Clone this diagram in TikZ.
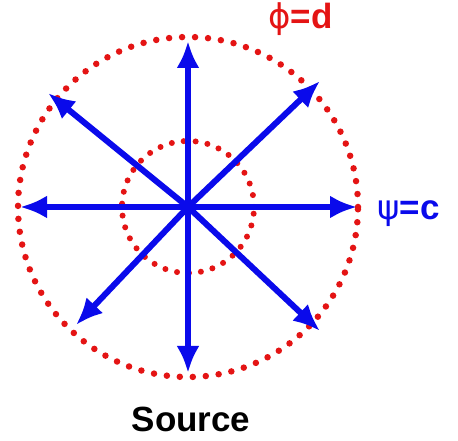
\documentclass[tikz,border=0pt]{standalone}
\usepackage{fontspec}
\setmainfont{Liberation Sans}
\newfontfamily\greekfont{DejaVu Sans}
\usetikzlibrary{arrows.meta}
\definecolor{dotred}{RGB}{228,20,20}
\definecolor{arrblue}{RGB}{10,10,235}
\begin{document}
\begin{tikzpicture}[x=1pt,y=1pt,
  dotcirc/.style={draw=dotred, line width=6.5pt, line cap=round, dash pattern=on 0pt off 13pt},
  innercirc/.style={draw=dotred, line width=6pt, line cap=round, dash pattern=on 0pt off 12pt},
  ray/.style={draw=arrblue, line width=6pt, -{Latex[length=27pt,width=23pt]}},
  lbl/.style={font=\fontsize{35}{37}\selectfont\bfseries, inner sep=0pt}]
\useasboundingbox (0,0) rectangle (458,441);
\coordinate (c) at (188,234);
\draw[dotcirc] (c) circle (170);
\draw[innercirc] (c) circle (66);
\coordinate (u) at (188,400);
\coordinate (d) at (188,68);
\coordinate (l) at (20,234);
\coordinate (r) at (357,234);
\coordinate (ur) at (320,360);
\coordinate (ul) at (48,348);
\coordinate (dl) at (76,116);
\coordinate (dr) at (320,110);
\foreach \t in {u,d,l,r,ur,ul,dl,dr} \draw[ray] (c) -- (\t);
\node[lbl, text=dotred, anchor=base west] (phi) at (268,412) {{\greekfont\mdseries\fontsize{34}{36}\selectfont ϕ}=d};
\node[lbl, text=arrblue, anchor=base west] (psi) at (377,221) {{\greekfont\mdseries\fontsize{34}{36}\selectfont ψ}=c};
\node[lbl, text=black] (src) at (191,22) {Source};
\end{tikzpicture}
\end{document}
